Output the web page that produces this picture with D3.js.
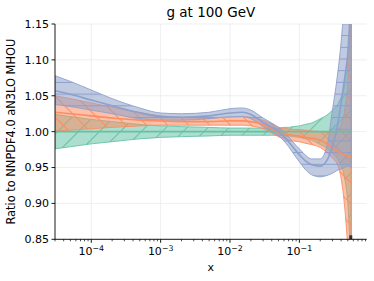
<!DOCTYPE html>
<html><head><meta charset="utf-8">
<script src="https://cdn.jsdelivr.net/npm/d3@7"></script>
<style>body{margin:0;background:#fff} text{font-family:"DejaVu Sans",sans-serif;fill:#000}</style>
</head><body>
<svg id="c" width="374" height="281"></svg>
<script>
const title = "g at 100 GeV";
const yLabel = "Ratio to NNPDF4.0 aN3LO MHOU";
const xLabel = "x";
const xs = [3e-5,5e-5,1e-4,2e-4,5e-4,1e-3,2e-3,5e-3,1e-2,1.5e-2,2e-2,3e-2,4e-2,5e-2,6e-2,7e-2,8e-2,0.1,0.12,0.15,0.2,0.25,0.3,0.35,0.4,0.45,0.5,0.56];
// NNPDF4.0 aN3LO MHOU (reference)
const greenCen = [1,1,1,1,1,1,1,1,1,1,1,1,1,1,1,1,1,1,1,1,1,1,1,1,1,1,1,1];
const greenLo  = [0.976,0.979,0.983,0.986,0.990,0.992,0.993,0.994,0.995,0.995,0.995,0.995,0.995,0.995,0.994,0.994,0.993,0.992,0.990,0.988,0.982,0.977,0.970,0.963,0.952,0.935,0.90,0.80];
const greenHi  = [1.024,1.021,1.017,1.014,1.010,1.008,1.007,1.006,1.005,1.005,1.005,1.005,1.005,1.005,1.006,1.006,1.007,1.008,1.010,1.012,1.018,1.023,1.030,1.037,1.048,1.065,1.10,1.20];
// orange
const orangeLo  = [1.001,1.002,1.004,1.006,1.008,1.009,1.009,1.009,1.009,1.009,1.008,1.004,0.998,0.993,0.990,0.988,0.987,0.986,0.984,0.982,0.978,0.971,0.963,0.955,0.935,0.895,0.840,0.78];
const orangeCen = [1.027,1.025,1.022,1.019,1.016,1.015,1.014,1.014,1.015,1.015,1.014,1.010,1.004,0.999,0.997,0.996,0.995,0.994,0.992,0.991,0.988,0.983,0.977,0.973,0.970,0.968,0.966,0.965];
const orangeHi  = [1.050,1.046,1.040,1.034,1.027,1.022,1.020,1.019,1.020,1.021,1.020,1.016,1.011,1.006,1.004,1.004,1.003,1.003,1.002,1.001,1.000,0.999,0.999,1.002,1.010,1.030,1.070,1.20];
// blue
const blueLo  = [1.038,1.035,1.030,1.025,1.018,1.016,1.016,1.018,1.021,1.021,1.018,1.007,1.000,0.994,0.987,0.979,0.971,0.958,0.948,0.940,0.937,0.939,0.942,0.946,0.948,0.950,0.952,0.950];
const blueCen = [1.057,1.052,1.044,1.036,1.026,1.021,1.020,1.022,1.026,1.027,1.024,1.013,1.006,1.000,0.993,0.986,0.979,0.968,0.960,0.954,0.952,0.960,0.980,1.005,1.040,1.075,1.110,1.200];
const blueHi  = [1.078,1.070,1.058,1.046,1.033,1.026,1.025,1.027,1.032,1.033,1.030,1.019,1.012,1.006,1.000,0.993,0.986,0.976,0.968,0.962,0.962,0.980,1.030,1.075,1.125,1.190,1.280,1.400];
const yTicks = [0.85,0.90,0.95,1.00,1.05,1.10,1.15];
const xTicks = [1e-4,1e-3,1e-2,1e-1];
const xTickExp = ["−4","−3","−2","−1"];

const W=374,H=281, L=55, T=24, R=366.7, B=239.3;
const svg = d3.select("#c");
const x = d3.scaleLog().domain([3e-5,0.935]).range([L,R]);
const y = d3.scaleLinear().domain([0.85,1.15]).range([B,T]);

const defs = svg.append("defs");
defs.append("clipPath").attr("id","clip").append("rect").attr("x",L).attr("y",T).attr("width",R-L).attr("height",B-T);
function hatch(id,color,kind){
  if(kind==="-"){
    const p=defs.append("pattern").attr("id",id).attr("patternUnits","userSpaceOnUse").attr("width",12).attr("height",11.7);
    p.append("line").attr("x1",0).attr("x2",12).attr("y1",0.5).attr("y2",0.5).attr("stroke",color).attr("stroke-width",1);
  } else {
    const s=14.8;
    const p=defs.append("pattern").attr("id",id).attr("patternUnits","userSpaceOnUse").attr("width",s).attr("height",s)
      .attr("patternTransform","rotate("+(kind==="/"?45:-45)+")");
    p.append("line").attr("x1",0.5).attr("x2",0.5).attr("y1",0).attr("y2",s).attr("stroke",color).attr("stroke-width",1);
  }
}
const series = [
  {c:"#66c2a5", lo:greenLo, hi:greenHi, cen:greenCen, h:"/"},
  {c:"#fc8d62", lo:orangeLo, hi:orangeHi, cen:orangeCen, h:"\\"},
  {c:"#8da0cb", lo:blueLo, hi:blueHi, cen:blueCen, h:"-"}
];
series.forEach((s,i)=>hatch("h"+i,s.c,s.h));

// grid
const g0 = svg.append("g");
g0.selectAll(".gx").data(xTicks).join("line").attr("x1",d=>x(d)).attr("x2",d=>x(d)).attr("y1",T).attr("y2",B).attr("stroke","#ebebeb").attr("stroke-width",0.8);
g0.selectAll(".gy").data(yTicks).join("line").attr("x1",L).attr("x2",R).attr("y1",d=>y(d)).attr("y2",d=>y(d)).attr("stroke","#ebebeb").attr("stroke-width",0.8);

const plot = svg.append("g").attr("clip-path","url(#clip)");
const curve = d3.curveMonotoneX;
series.forEach((s,i)=>{
  const pts = xs.map((xv,j)=>({x:xv,lo:s.lo[j],hi:s.hi[j]}));
  const area = d3.area().x(d=>x(d.x)).y0(d=>y(d.lo)).y1(d=>y(d.hi)).curve(curve);
  plot.append("path").attr("d",area(pts)).attr("fill",s.c).attr("fill-opacity",0.55);
  plot.append("path").attr("d",area(pts)).attr("fill","url(#h"+i+")").attr("stroke",s.c).attr("stroke-width",0.9);
});
series.forEach((s,i)=>{
  const pts = xs.map((xv,j)=>({x:xv,v:s.cen[j]}));
  const line = d3.line().x(d=>x(d.x)).y(d=>y(d.v)).curve(curve);
  plot.append("path").attr("d",line(pts)).attr("fill","none").attr("stroke",s.c).attr("stroke-width",1.6);
});
// small dark marker at the clipped end
plot.append("rect").attr("x",x(xs[xs.length-1])-2).attr("y",y(0.85)-4).attr("width",3).attr("height",4).attr("fill","#333");

// axes
const ax = svg.append("g");
ax.append("line").attr("x1",L).attr("x2",L).attr("y1",T).attr("y2",B).attr("stroke","#000").attr("stroke-width",0.9);
ax.append("line").attr("x1",L).attr("x2",R).attr("y1",B).attr("y2",B).attr("stroke","#000").attr("stroke-width",0.9);
yTicks.forEach(t=>{
  ax.append("line").attr("x1",L-3.5).attr("x2",L).attr("y1",y(t)).attr("y2",y(t)).attr("stroke","#000").attr("stroke-width",0.9);
  ax.append("text").attr("x",L-6).attr("y",y(t)).attr("dy","0.36em").attr("text-anchor","end").attr("font-size",11).text(t.toFixed(2));
});
const minors=[];
for(let e=-5;e<=0;e++) for(let m=2;m<=9;m++){const v=m*Math.pow(10,e); if(v>=x.domain()[0]&&v<=x.domain()[1]) minors.push(v);}
minors.forEach(v=>ax.append("line").attr("x1",x(v)).attr("x2",x(v)).attr("y1",B).attr("y2",B+2).attr("stroke","#000").attr("stroke-width",0.7));
xTicks.forEach((t,i)=>{
  ax.append("line").attr("x1",x(t)).attr("x2",x(t)).attr("y1",B).attr("y2",B+3.5).attr("stroke","#000").attr("stroke-width",0.9);
  const tx = ax.append("text").attr("x",x(t)).attr("y",B+16).attr("text-anchor","middle").attr("font-size",11);
  tx.append("tspan").text("10");
  tx.append("tspan").attr("dy",-4.5).attr("font-size",7.8).text(xTickExp[i]);
});
svg.append("text").attr("x",(L+R)/2).attr("y",17).attr("text-anchor","middle").attr("font-size",13.5).text(title);
svg.append("text").attr("x",(L+R)/2).attr("y",271).attr("text-anchor","middle").attr("font-size",11).text(xLabel);
svg.append("text").attr("transform","translate(15,"+((T+B)/2)+") rotate(-90)").attr("text-anchor","middle").attr("font-size",11.4).text(yLabel);
</script>
</body></html>
